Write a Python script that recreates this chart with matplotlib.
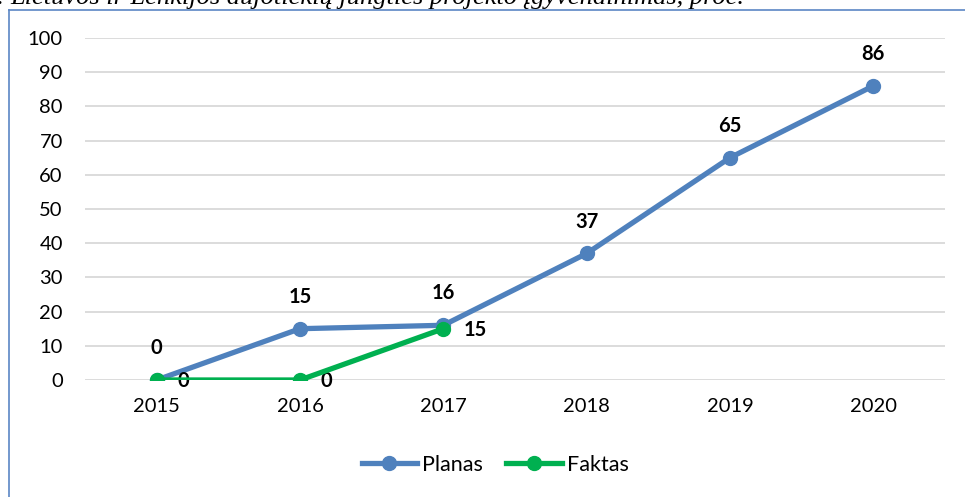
import matplotlib
matplotlib.use("Agg")
import matplotlib.pyplot as plt
from matplotlib.lines import Line2D

# Duomenys
metai = ["2015", "2016", "2017", "2018", "2019", "2020"]
planas = [0, 15, 16, 37, 65, 86]
faktas = [0, 0, 15]

plt.rcParams['font.family'] = ['Lato', 'DejaVu Sans']

W, H = 965, 497
fig = plt.figure(figsize=(W / 100, H / 100), dpi=100)
ax = fig.add_axes([85 / W, 1 - 380 / H, (945 - 85) / W, (380 - 38) / H])

blue = '#4F81BD'
green = '#00B050'
x_pl = list(range(len(planas)))
x_fk = list(range(len(faktas)))

ax.plot(x_pl, planas, '-o', color=blue, lw=3.8, markersize=10, label='Planas', zorder=3)
ax.plot(x_fk, faktas, '-o', color=green, lw=3.8, markersize=10, label='Faktas', zorder=4)

# Reikšmių etiketės
for xi, v in zip(x_pl, planas):
    ax.annotate(str(v), (xi, v), xytext=(0, 23), textcoords='offset points',
                ha='center', va='center', fontsize=14.5, fontweight='bold')
for xi, v in zip(x_fk, faktas):
    ax.annotate(str(v), (xi, v), xytext=(15, -1), textcoords='offset points',
                ha='left', va='center', fontsize=14.5, fontweight='bold')

ax.set_xlim(-0.5, len(metai) - 0.5)
ax.set_ylim(0, 100)
ax.set_xticks(x_pl)
ax.set_xticklabels(metai)
ax.set_yticks(range(0, 101, 10))
ax.tick_params(axis='both', length=0, labelsize=14.5)
ax.tick_params(axis='y', pad=16)
ax.tick_params(axis='x', pad=13)
ax.grid(axis='y', color='#D9D9D9', lw=1.3)
ax.set_axisbelow(True)
for s in ax.spines.values():
    s.set_visible(False)

fig.legend(loc='center', bbox_to_anchor=(495 / W, 1 - 465 / H), ncol=2, frameon=False,
           fontsize=15.5, handlelength=2.6, handletextpad=0.2, columnspacing=1.1)

# Rėmelis (kairė ir viršus)
fig.add_artist(Line2D([9 / W, 9 / W], [0, 1 - 10 / H], color='#5B86C5', lw=1.2))
fig.add_artist(Line2D([9 / W, 1], [1 - 10 / H, 1 - 10 / H], color='#5B86C5', lw=1.2))

# Antraštė (nukirpta viršuje, kaip originale)
fig.text(4 / W, 1 - 4 / H, "pav.", ha='right', va='baseline', fontsize=19,
         family=['Liberation Serif', 'DejaVu Serif'], style='italic')
fig.text(10 / W, 1 - 4 / H, "Lietuvos ir Lenkijos dujotiekių jungties projekto įgyvendinimas, proc.",
         ha='left', va='baseline', fontsize=19,
         family=['Liberation Serif', 'DejaVu Serif'], style='italic')

fig.savefig('out.png', dpi=100)
